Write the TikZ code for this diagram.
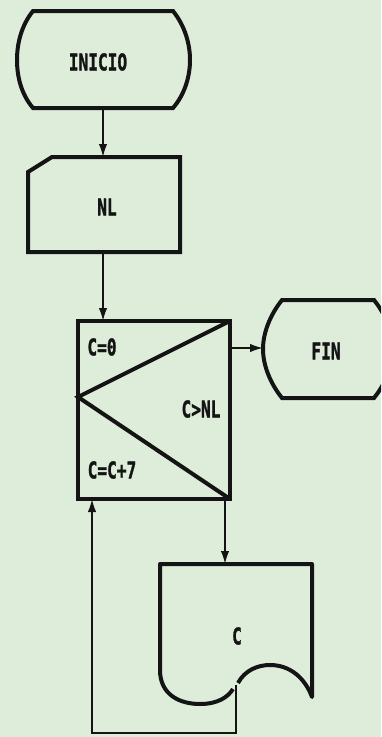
\documentclass[tikz,border=0pt]{standalone}
\usepackage{fontspec}
\usepackage{graphicx}
\newfontfamily\dmfont{DejaVu Sans Mono Bold}[FakeBold=1.6]
\usetikzlibrary{arrows.meta}
\definecolor{bg}{RGB}{221,237,217}
\definecolor{ink}{RGB}{20,20,20}
\newcommand{\dm}[1]{\scalebox{0.95}[1.35]{\fontsize{17}{18}\dmfont\bfseries #1}}
\tikzset{
  shapeline/.style={draw=ink, line width=4pt, line join=miter},
  conn/.style={draw=ink, line width=1.7pt},
  arr/.style={conn, -{Latex[length=13pt,width=8.5pt]}},
  lbl/.style={inner sep=0pt, text=ink}
}
\begin{document}
\begin{tikzpicture}[x=1pt,y=-1pt]
\fill[bg] (0,0) rectangle (381,737);
\useasboundingbox (0,0) rectangle (381,737);
\begin{scope}
\clip (0,0) rectangle (381,737);
% INICIO terminal
\draw[shapeline] (33,11) -- (173,11) .. controls (185,26) and (190,44) .. (190,60)
  .. controls (190,76) and (185,94) .. (173,108) -- (33,108)
  .. controls (21,94) and (17,76) .. (17,60) .. controls (17,44) and (21,26) .. cycle;
\coordinate (inicioB) at (103,108);
\node[lbl] (inicio) at (98,62) {\dm{INICIO}};
% NL input card
\draw[shapeline] (52,157) -- (180,157) -- (180,252) -- (28,252) -- (28,172) -- cycle;
\coordinate (nlT) at (103,157);
\coordinate (nlB) at (103,252);
\node[lbl] (nl) at (107,207) {\dm{NL}};
% loop box
\draw[shapeline] (78,321) rectangle (230,499);
\draw[shapeline] (230,321) -- (78,397) -- (230,499);
\coordinate (loopT) at (103,321);
\coordinate (loopR) at (230,348);
\coordinate (loopBR) at (225,499);
\coordinate (loopBL) at (92,499);
\node[lbl] (c0) at (102,347) {\dm{C=0}};
\node[lbl] (cnl) at (201,409) {\dm{C>NL}};
\node[lbl] (cc7) at (112,470) {\dm{C=C+7}};
% FIN terminal
\draw[shapeline] (282,300) -- (374,300) .. controls (386,315) and (393,333) .. (393,349)
  .. controls (393,365) and (386,383) .. (374,398) -- (282,398)
  .. controls (270,383) and (263,365) .. (263,349) .. controls (263,333) and (270,315) .. cycle;
\coordinate (finL) at (263,348);
\node[lbl] (fin) at (326,351) {\dm{FIN}};
% document C
\draw[shapeline, line join=round] (233,689) .. controls (228,697) and (218,704) .. (200,704)
  .. controls (180,704) and (160,695) .. (160,670) -- (160,564) -- (312,564) -- (312,697)
  .. controls (305,678) and (290,665) .. (270,665) .. controls (258,665) and (245,670) .. (238,683);
\coordinate (docT) at (225,564);
\coordinate (docB) at (236,685);
\node[lbl] (c) at (237,636) {\dm{C}};
% connectors
\coordinate (lb1) at (236,733);
\coordinate (lb2) at (92,733);
\draw[arr] (inicioB) -- (nlT);
\draw[arr] (nlB) -- (loopT);
\draw[arr] (loopR) -- (finL);
\draw[arr] (loopBR) -- (docT);
\draw[arr] (docB) -- (lb1) -- (lb2) -- (loopBL);
\end{scope}
\end{tikzpicture}
\end{document}
